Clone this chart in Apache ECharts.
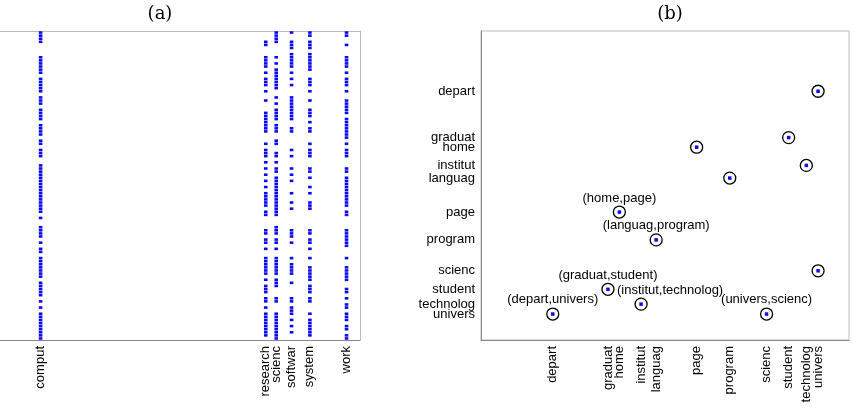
<!DOCTYPE html>
<html>
<head>
<meta charset="utf-8">
<script src="https://cdn.jsdelivr.net/npm/echarts@6/dist/echarts.min.js"></script>
<style>
  html, body { margin: 0; padding: 0; background: #fff; }
  #main { width: 852px; height: 408px; }
</style>
</head>
<body>
<div id="main"></div>
<script>
// word positions along the (alphabetical) vocabulary axis, 0..100
var wordNames = ['comput', 'depart', 'graduat', 'home', 'institut', 'languag', 'page', 'program',
                 'research', 'scienc', 'softwar', 'student', 'system', 'technolog', 'univers', 'work'];
var wordPos   = [14.6, 19.5, 34.5, 37.6, 43.5, 47.6, 58.6, 67.6,
                 74.8, 77.6, 81.7, 83.6, 86.6, 88.4, 91.6, 96.4];

// (a) documents (rows, top = 0) in which each word occurs
var docWords = ['comput', 'research', 'scienc', 'softwar', 'system', 'work'];
var docRows = [
    [0,1,2,3, 8,9,10,11,12,13, 15,16,17,18,19, 21,22,23, 25,26,27,28, 30,31,32,33, 35,36, 38,39,40,
     43,44,45,46,47,48,49,50,51,52,53,54,55,56,57,58, 60, 63,64,65,66, 68, 70,71, 73,74,75,76,77,78,79,
     81,82,83,84,85, 87, 89, 91,92,93,94,95,96,97,98,99],
    [3,4, 8,9,10,11, 13, 15,16,17, 19, 22, 26,27,28,29,30,31,32, 36, 38,39,40, 42, 44, 46, 48, 50,
     52,53,54,55,56, 58,59, 64,65, 67,68, 70, 73,74,75,76,77,78, 80, 82,83,84, 86,87, 89,
     91,92,93,94,95,96,97,98],
    [0,1,2,3, 8, 10, 12,13,14, 15,16,17,18, 21, 23, 25,26,27,28, 30,31,32, 35,36, 39,40, 42, 44,45,
     47,48,49,50,51,52,53,54,55,56,57,58,59, 63,64,65, 67,68, 70, 73,74,75,76,77,78, 80,81,82, 86,87,
     91,92,93,94,95,96,97,98,99],
    [0, 3,4,5, 7, 8,9,10,11, 13, 15, 17, 21,22,23,24,25,26,27,28, 31,32, 38, 40, 44, 46, 48, 52, 55, 57,
     64,65,66, 68, 73, 75,76,77,78, 81, 86,87, 89,90,91, 93, 95, 97],
    [0,1, 3,4,5, 7, 8,9,10,11,12, 15,16,17, 19, 22, 25,26,27, 29, 31,32, 36, 38,39,40, 44,45, 47, 50, 52,
     55,56,57, 64,65, 67,68, 70, 73, 76,77,78,79,80, 82,83,84, 86,87, 91, 93,94,95,96,97,98],
    [0,1, 4, 8,9,10,11, 13, 15,16,17, 19, 22,23,24, 25,26, 28,29,30,31,32,33,34, 36, 38,39,40, 44,45,
     47,48,49,50,51,52,53,54,55,56, 58,59, 64,65,66,67,68,69, 73, 76,77,78,79,80, 83,84, 86, 88,89,
     91,92,93, 95,96, 98,99]
];

// (b) word pairs: [x word, y word, label]
var pairX     = ['univers', 'student', 'page', 'technolog', 'program', 'home', 'languag', 'univers',
                 'graduat', 'institut', 'depart', 'scienc'];
var pairY     = ['depart', 'graduat', 'home', 'institut', 'languag', 'page', 'program', 'scienc',
                 'student', 'technolog', 'univers', 'univers'];
var pairLabel = ['', '', '', '', '', '(home,page)', '(languag,program)', '',
                 '(graduat,student)', '(institut,technolog)', '(depart,univers)', '(univers,scienc)'];
var axisWordsB = ['depart', 'graduat', 'home', 'institut', 'languag', 'page', 'program',
                  'scienc', 'student', 'technolog', 'univers'];

(function () {
    var font = 'Liberation Sans';
    // panel (a) box starts left of the window, so the visible axis starts above 0
    var minA = 14 / 374 * 100;
    function pos(w) { return wordPos[wordNames.indexOf(w)]; }
    function nameAt(v) {
        for (var i = 0; i < wordPos.length; i++) {
            if (Math.abs(wordPos[i] - v) < 1e-6) return wordNames[i];
        }
        return '';
    }
    var labelOffset = { '(institut,technolog)': [29, 0] };

    var dotsA = [];
    docWords.forEach(function (w, i) {
        docRows[i].forEach(function (r) { dotsA.push([pos(w), r]); });
    });

    var pointsB = pairX.map(function (w, i) {
        var item = { value: [pos(w), pos(pairY[i])] };
        if (pairLabel[i]) {
            item.label = { show: true, formatter: pairLabel[i], offset: labelOffset[pairLabel[i]] || [0, 0] };
        }
        return item;
    });

    // empty end labels keep the real last label from being treated as the max label
    var customA = docWords.map(pos).concat([100]);
    var customB = [0].concat(axisWordsB.map(pos)).concat([100]);

    var labelStyle = { color: '#000', fontFamily: font, fontSize: 13, formatter: nameAt };

    var myChart = echarts.init(document.getElementById('main'));
    var option = {
        animation: false,
        title: [
            { text: '(a)', left: 155, top: 0, textAlign: 'center',
              textStyle: { fontFamily: 'DejaVu Serif', fontSize: 18, fontWeight: 'normal', color: '#000' } },
            { text: '(b)', left: 665, top: 0, textAlign: 'center',
              textStyle: { fontFamily: 'DejaVu Serif', fontSize: 18, fontWeight: 'normal', color: '#000' } }
        ],
        grid: [
            { left: 0, width: 360, top: 31, height: 309 },
            { left: 481, width: 368, top: 31, height: 309, show: true, borderColor: '#bbb', borderWidth: 1 }
        ],
        xAxis: [
            {
                gridIndex: 0, type: 'value', min: minA, max: 100,
                axisLine: { onZero: false, lineStyle: { color: '#888' } },
                axisTick: { show: false },
                splitLine: { show: false },
                axisLabel: Object.assign({ customValues: customA, rotate: 90, margin: 6 }, labelStyle)
            },
            {
                gridIndex: 1, type: 'value', min: 0, max: 100,
                axisLine: { onZero: false, lineStyle: { color: '#888' } },
                axisTick: { show: false },
                splitLine: { show: false },
                axisLabel: Object.assign({ customValues: customB, rotate: 90, margin: 6 }, labelStyle)
            },
            {
                gridIndex: 0, type: 'value', min: minA, max: 100, position: 'top',
                axisLine: { onZero: false, lineStyle: { color: '#bbb' } },
                axisTick: { show: false }, axisLabel: { show: false }, splitLine: { show: false }
            }
        ],
        yAxis: [
            {
                gridIndex: 0, type: 'value', min: -0.5, max: 99.5, inverse: true, position: 'right',
                axisLine: { show: true, onZero: false, lineStyle: { color: '#bbb' } }, axisTick: { show: false },
                axisLabel: { show: false }, splitLine: { show: false }
            },
            {
                gridIndex: 1, type: 'value', min: 0, max: 100, inverse: true,
                axisLine: { show: true, onZero: false, lineStyle: { color: '#888' } },
                axisTick: { show: false },
                splitLine: { show: false },
                axisLabel: Object.assign({ customValues: customB, margin: 6 }, labelStyle)
            }
        ],
        series: [
            {
                type: 'scatter', xAxisIndex: 0, yAxisIndex: 0,
                symbol: 'rect', symbolSize: [3.6, 2.6],
                itemStyle: { color: '#0a0af0', opacity: 1 },
                data: dotsA
            },
            {
                type: 'scatter', xAxisIndex: 1, yAxisIndex: 1,
                symbol: 'circle', symbolSize: 12,
                itemStyle: { color: '#fff', borderColor: '#000', borderWidth: 1.3, opacity: 1 },
                label: {
                    position: 'top', distance: 1,
                    color: '#000', fontFamily: font, fontSize: 13
                },
                data: pointsB
            },
            {
                type: 'scatter', xAxisIndex: 1, yAxisIndex: 1,
                symbol: 'rect', symbolSize: 3.5,
                itemStyle: { color: '#0a0af0', opacity: 1 },
                data: pointsB.map(function (p) { return p.value; })
            }
        ]
    };
    myChart.setOption(option);
    window.addEventListener('resize', function () { myChart.resize(); });
})();
</script>
</body>
</html>
